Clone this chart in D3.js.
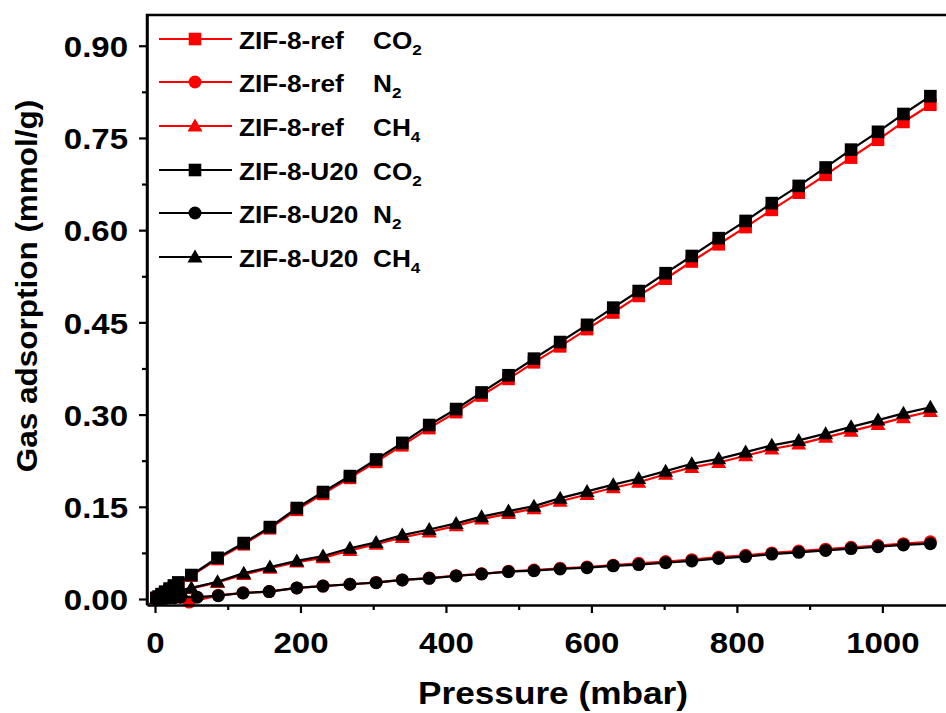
<!DOCTYPE html>
<html><head><meta charset="utf-8">
<script src="https://cdn.jsdelivr.net/npm/d3@7"></script>
<style>body{margin:0;background:#fff;}svg{display:block;font-family:"Liberation Sans",Arial,sans-serif;}</style>
</head><body>
<svg id="c" width="946" height="713"></svg>
<script>
// ---- data (pressure in mbar, adsorption in mmol/g) ----
const pCO2 = [2,5,9,14,20,26,32,50,86,122,158,195,231,268,304,340,377,414,449,486,521,557,594,630,665,702,738,775,812,848,885,922,957,994,1029,1066];
const refCO2 = [0.001,0.003,0.006,0.010,0.014,0.019,0.024,0.038,0.065,0.089,0.115,0.145,0.171,0.197,0.223,0.250,0.278,0.304,0.331,0.358,0.385,0.411,0.439,0.466,0.493,0.521,0.549,0.577,0.605,0.633,0.661,0.690,0.718,0.747,0.776,0.804];
const u20CO2 = [0.002,0.004,0.008,0.012,0.017,0.022,0.027,0.039,0.067,0.091,0.117,0.148,0.174,0.200,0.227,0.254,0.283,0.309,0.336,0.364,0.391,0.418,0.446,0.474,0.501,0.530,0.558,0.587,0.615,0.644,0.672,0.702,0.731,0.760,0.789,0.818];

const pCH4 = [2,5,9,14,20,27,35,50,86,122,158,195,231,268,304,340,377,414,449,486,521,557,594,630,665,702,738,775,812,848,885,922,957,994,1029,1066];
const refCH4 = [0.000,0.002,0.004,0.006,0.008,0.011,0.013,0.017,0.027,0.040,0.050,0.060,0.067,0.079,0.089,0.100,0.109,0.119,0.130,0.139,0.147,0.159,0.170,0.181,0.190,0.203,0.214,0.222,0.233,0.244,0.252,0.263,0.273,0.284,0.295,0.305];
const u20CH4 = [0.001,0.002,0.004,0.007,0.009,0.012,0.014,0.018,0.028,0.042,0.052,0.062,0.070,0.0825,0.092,0.104,0.113,0.123,0.134,0.143,0.151,0.164,0.175,0.186,0.196,0.208,0.220,0.228,0.239,0.250,0.258,0.269,0.280,0.291,0.302,0.312];

const pN2ref = [2,5,9,14,20,27,35,47,87,121,157,195,231,268,304,340,377,414,449,486,521,557,594,630,665,702,738,775,812,848,885,922,957,994,1029,1066];
const refN2 = [0.000,0.001,0.001,0.002,0.002,0.003,0.003,-0.005,0.006,0.010,0.012,0.018,0.021,0.024,0.027,0.031,0.034,0.038,0.041,0.045,0.047,0.050,0.052,0.055,0.058,0.061,0.064,0.068,0.071,0.075,0.078,0.081,0.084,0.087,0.090,0.093];
const pN2u20 = [2,5,9,14,20,27,35,58,87,121,157,195,231,268,304,340,377,414,449,486,521,557,594,630,665,702,738,775,812,848,885,922,957,994,1029,1066];
const u20N2 = [0.000,0.000,0.001,0.001,0.002,0.002,0.003,0.003,0.0054,0.0098,0.012,0.018,0.021,0.024,0.0265,0.031,0.0337,0.0374,0.0407,0.0444,0.046,0.0488,0.051,0.054,0.056,0.059,0.062,0.066,0.069,0.073,0.076,0.079,0.082,0.085,0.088,0.090];

const xTicks = [0,200,400,600,800,1000];
const xMinor = [100,300,500,700,900];
const yTicks = [0,0.15,0.30,0.45,0.60,0.75,0.90];
const yMinor = [0.075,0.225,0.375,0.525,0.675,0.825];
const sampleNames = ["ZIF-8-ref","ZIF-8-ref","ZIF-8-ref","ZIF-8-U20","ZIF-8-U20","ZIF-8-U20"];
const gasNames = [["CO","2"],["N","2"],["CH","4"],["CO","2"],["N","2"],["CH","4"]];

// ---- chart ----
const svg = d3.select("#c");
svg.append("rect").attr("width",946).attr("height",713).attr("fill","#fff");
const L=147, T=15, R=950, B=605;
const SX = 1.1;
const x = d3.scaleLinear().domain([-11,1093]).range([L,R]);
const y = d3.scaleLinear().domain([-0.00976,0.95]).range([B,T]);

const RED="#ff0000", BLK="#000000";
const series = [
  {p:pCO2, v:refCO2, c:RED, s:"square"},
  {p:pN2ref, v:refN2, c:RED, s:"circle"},
  {p:pCH4, v:refCH4, c:RED, s:"triangle"},
  {p:pCO2, v:u20CO2, c:BLK, s:"square"},
  {p:pN2u20, v:u20N2, c:BLK, s:"circle"},
  {p:pCH4, v:u20CH4, c:BLK, s:"triangle"}
];
function drawMarker(g, shape, cx, cy, color){
  if(shape==="square") g.append("rect").attr("x",cx-6.3).attr("y",cy-6.3).attr("width",12.6).attr("height",12.6).attr("fill",color);
  else if(shape==="circle") g.append("circle").attr("cx",cx).attr("cy",cy).attr("r",6.5).attr("fill",color);
  else g.append("path").attr("d",`M${cx},${cy-7.5}L${cx+7.5},${cy+5.5}L${cx-7.5},${cy+5.5}Z`).attr("fill",color);
}
const plot = svg.append("g");
const line = d3.line().x(d=>x(d[0])).y(d=>y(d[1]));
series.forEach(se=>{
  const pts = se.p.map((p,i)=>[p,se.v[i]]);
  const g = plot.append("g");
  g.append("path").attr("d",line(pts)).attr("fill","none").attr("stroke",se.c).attr("stroke-width",2.2);
  pts.forEach(d=>drawMarker(g,se.s,x(d[0]),y(d[1]),se.c));
});

// frame
svg.append("path").attr("d",`M${L},${B}L${L},${T}L${R},${T}`).attr("fill","none").attr("stroke","#000").attr("stroke-width",2.5);
// axes
const xAxis = d3.axisBottom(x).tickValues(xTicks).tickSize(8).tickSizeOuter(0).tickFormat(d3.format("d"));
const gx = svg.append("g").attr("transform",`translate(0,${B})`).call(xAxis);
gx.select(".domain").attr("stroke-width",2.5);
gx.selectAll(".tick line").attr("stroke-width",2.2);
gx.selectAll(".tick text").attr("font-size",30).attr("font-weight","bold").attr("font-family","Liberation Sans, Arial, sans-serif")
  .attr("y",48).attr("dy",null).attr("fill","#000").attr("transform",`scale(${SX},1)`);
const xAxisMinor = d3.axisBottom(x).tickValues(xMinor).tickSize(5).tickSizeOuter(0).tickFormat("");
const gxm = svg.append("g").attr("transform",`translate(0,${B})`).call(xAxisMinor);
gxm.select(".domain").remove();
gxm.selectAll(".tick line").attr("stroke-width",2.2);

const yAxis = d3.axisLeft(y).tickValues(yTicks).tickSize(8).tickSizeOuter(0).tickFormat(d3.format(".2f"));
const gy = svg.append("g").attr("transform",`translate(${L},0)`).call(yAxis);
gy.select(".domain").attr("stroke-width",2.5);
gy.selectAll(".tick line").attr("stroke-width",2.2);
gy.selectAll(".tick text").attr("font-size",30).attr("font-weight","bold").attr("font-family","Liberation Sans, Arial, sans-serif")
  .attr("x",-19/SX).attr("dy","0.36em").attr("fill","#000").attr("transform",`scale(${SX},1)`);
const yAxisMinor = d3.axisLeft(y).tickValues(yMinor).tickSize(5).tickSizeOuter(0).tickFormat("");
const gym = svg.append("g").attr("transform",`translate(${L},0)`).call(yAxisMinor);
gym.select(".domain").remove();
gym.selectAll(".tick line").attr("stroke-width",2.2);

// axis titles
svg.append("text").attr("transform",`translate(553,704) scale(${SX},1)`).attr("text-anchor","middle").attr("font-size",32).attr("font-weight","bold").text("Pressure (mbar)");
svg.append("text").attr("transform",`translate(37,286) rotate(-90) scale(1.05,1)`).attr("text-anchor","middle").attr("font-size",30).attr("font-weight","bold").text("Gas adsorption (mmol/g)");

// legend
const lg = svg.append("g");
const legY = [39,82,126,170,213,257];
const LS = 1.14;
series.forEach((se,i)=>{
  const yy = legY[i];
  lg.append("line").attr("x1",159).attr("x2",232).attr("y1",yy).attr("y2",yy).attr("stroke",se.c).attr("stroke-width",2.2);
  drawMarker(lg,se.s,195,yy,se.c);
  lg.append("text").attr("transform",`translate(239,${yy+10}) scale(${LS},1)`).attr("font-size",23).attr("font-weight","bold").text(sampleNames[i]);
  const t = lg.append("text").attr("transform",`translate(373,${yy+10}) scale(${LS},1)`).attr("font-size",23).attr("font-weight","bold");
  t.append("tspan").text(gasNames[i][0]);
  t.append("tspan").attr("dy",6).attr("font-size",15).text(gasNames[i][1]);
});
</script>
</body></html>
